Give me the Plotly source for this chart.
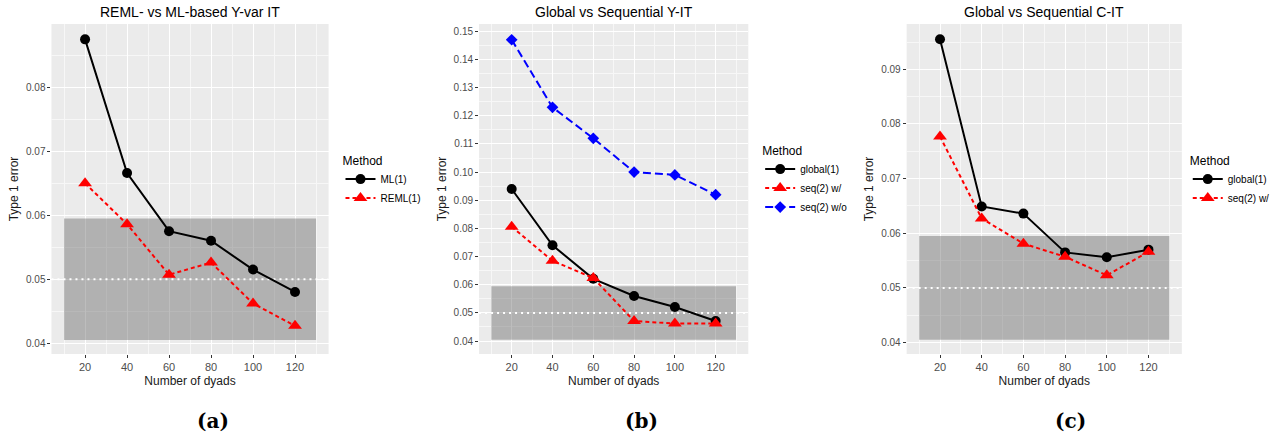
import plotly.graph_objects as go

# ---------------- data ----------------
dyads = [20, 40, 60, 80, 100, 120]

# panel (a)
a_ml = [0.0875, 0.0666, 0.0575, 0.0560, 0.0515, 0.0480]
a_reml = [0.0650, 0.0586, 0.0507, 0.0526, 0.0462, 0.0427]

# panel (b)
b_global = [0.0940, 0.0740, 0.0621, 0.0560, 0.0521, 0.0471]
b_seq_w = [0.0806, 0.0685, 0.0624, 0.0471, 0.0462, 0.0462]
b_seq_wo = [0.1470, 0.1230, 0.1120, 0.1000, 0.0990, 0.0920]

# panel (c)
c_global = [0.0955, 0.0649, 0.0636, 0.0565, 0.0556, 0.0570]
c_seq_w = [0.0777, 0.0627, 0.0581, 0.0557, 0.0523, 0.0566]

titles = ["REML- vs ML-based Y-var IT", "Global vs Sequential Y-IT", "Global vs Sequential C-IT"]
captions = ["(a)", "(b)", "(c)"]
band_low, band_high = 0.0405, 0.0595
nominal = 0.05
band_x = [10, 130]
x_range = [4, 136]

a_yticks = [0.04, 0.05, 0.06, 0.07, 0.08]
b_yticks = [0.04, 0.05, 0.06, 0.07, 0.08, 0.09, 0.10, 0.11, 0.12, 0.13, 0.14, 0.15]
c_yticks = [0.04, 0.05, 0.06, 0.07, 0.08, 0.09]
yranges = [[0.0383, 0.0899], [0.0354, 0.1526], [0.0379, 0.0983]]

W, H = 1275, 439
# plot area pixels (left, right)
xpix = [(52, 332), (484, 756), (916, 1194)]
ytop, ybot = 24, 354

FONT = "Liberation Sans, Arial, sans-serif"
fig = go.Figure()

def add_series(ax, legend, name, y, color, dash, symbol, msize):
    fig.add_trace(go.Scatter(
        x=dyads, y=y, name=name, mode="lines+markers",
        xaxis="x" + ("" if ax == 1 else str(ax)),
        yaxis="y" + ("" if ax == 1 else str(ax)),
        legend=legend,
        line=dict(color=color, width=2, dash=dash),
        marker=dict(color=color, symbol=symbol, size=msize),
    ))

RED_DASH = "4px,3px"
BLUE_DASH = "8px,4px"
add_series(1, "legend", "ML(1)", a_ml, "black", "solid", "circle", 10)
add_series(1, "legend", "REML(1)", a_reml, "red", RED_DASH, "triangle-up", 12)
add_series(2, "legend2", "global(1)", b_global, "black", "solid", "circle", 10)
add_series(2, "legend2", "seq(2) w/", b_seq_w, "red", RED_DASH, "triangle-up", 12)
add_series(2, "legend2", "seq(2) w/o", b_seq_wo, "blue", BLUE_DASH, "diamond", 9)
add_series(3, "legend3", "global(1)", c_global, "black", "solid", "circle", 10)
add_series(3, "legend3", "seq(2) w/", c_seq_w, "red", RED_DASH, "triangle-up", 12)

ydomain = [1 - ybot / H, 1 - ytop / H]
layout = dict(
    width=W, height=H, margin=dict(l=0, r=0, t=0, b=0),
    paper_bgcolor="white", plot_bgcolor="#EBEBEB",
    font=dict(family=FONT, color="#4D4D4D", size=10),
    showlegend=True,
)
yticksets = [a_yticks, b_yticks, c_yticks]
shapes = []
annotations = []
legend_pos = [(344, 149), (768, 139), (1200, 149)]
for i in range(3):
    sfx = "" if i == 0 else str(i + 1)
    l, r = xpix[i]
    xdom = [l / W, r / W]
    yt = yticksets[i]
    minor_y = [(yt[k] + yt[k + 1]) / 2 for k in range(len(yt) - 1)]
    minor_y = [yt[0] - (yt[1] - yt[0]) / 2] + minor_y + [yt[-1] + (yt[1] - yt[0]) / 2]
    layout["xaxis" + sfx] = dict(
        domain=xdom, anchor="y" + sfx, range=x_range,
        tickvals=dyads, ticktext=[str(d) for d in dyads],
        showgrid=True, gridcolor="white", gridwidth=1.2, zeroline=False,
        ticks="outside", ticklen=3, tickcolor="#333333", tickwidth=1,
        tickfont=dict(size=11, color="#4D4D4D"),
        minor=dict(tickvals=[10, 30, 50, 70, 90, 110, 130], showgrid=True,
                   gridcolor="#F7F7F7", gridwidth=0.6, ticks=""),
        title=dict(text="Number of dyads", font=dict(size=12, color="#1a1a1a"), standoff=4),
    )
    layout["yaxis" + sfx] = dict(
        domain=ydomain, anchor="x" + sfx, range=yranges[i],
        tickvals=yt, ticktext=["%.2f" % v for v in yt],
        showgrid=True, gridcolor="white", gridwidth=1.2, zeroline=False,
        ticks="outside", ticklen=3, tickcolor="#333333", tickwidth=1,
        tickfont=dict(size=10, color="#4D4D4D"),
        minor=dict(tickvals=minor_y, showgrid=True, gridcolor="#F7F7F7",
                   gridwidth=0.6, ticks=""),
        title=dict(text="Type 1 error", font=dict(size=12, color="#1a1a1a"), standoff=4),
    )
    xr = "x" + sfx
    yr = "y" + sfx
    shapes.append(dict(type="rect", xref=xr, yref=yr, x0=band_x[0], x1=band_x[1],
                       y0=band_low, y1=band_high, fillcolor="rgba(90,90,90,0.4)",
                       line=dict(width=0), layer="between"))
    shapes.append(dict(type="line", xref=xr, yref=yr, x0=x_range[0], x1=x_range[1],
                       y0=nominal, y1=nominal,
                       line=dict(color="white", width=2, dash="2px,4px"),
                       layer="between"))
    annotations.append(dict(text=titles[i], xref="paper", yref="paper",
                            x=(l + r) / 2 / W, y=1 - 12 / H, xanchor="center", yanchor="middle",
                            showarrow=False, font=dict(size=14, color="black")))
    annotations.append(dict(text="<b>" + captions[i] + "</b>", xref="paper", yref="paper",
                            x=[215, 648, 1082][i] / W, y=1 - 421 / H, xanchor="center",
                            yanchor="middle", showarrow=False,
                            font=dict(size=20, color="black", family="DejaVu Serif, serif")))
    lx, ly = legend_pos[i]
    layout["legend" if i == 0 else "legend" + str(i + 1)] = dict(
        x=lx / W, y=1 - ly / H, xanchor="left", yanchor="top",
        xref="paper", yref="paper", bgcolor="rgba(0,0,0,0)",
        title=dict(text="Method", font=dict(size=12, color="black")),
        font=dict(size=10, color="black"), tracegroupgap=0,
        itemwidth=30,
    )
layout["shapes"] = shapes
layout["annotations"] = annotations
fig.update_layout(**layout)

fig.write_html("out.html", config={"displayModeBar": False},
               post_script="document.body.style.margin='0';document.body.style.padding='0';")
